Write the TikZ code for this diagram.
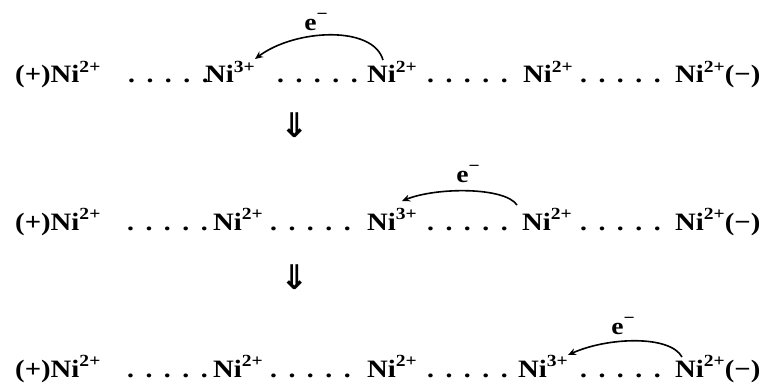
\documentclass[tikz,border=0pt]{standalone}
\usepackage{fontspec}
\setmainfont[FakeStretch=1.15]{Liberation Serif}
\newfontfamily\arrowfont{DejaVu Sans}
\usetikzlibrary{arrows.meta}
\newcommand\iondots{.\hspace{11.5pt}.\hspace{11.5pt}.\hspace{11.5pt}.\hspace{11.5pt}.}
\newcommand\chg[1]{\raisebox{10.5pt}{\fontsize{17}{20}\selectfont\bfseries #1}}
\tikzset{
  ion/.style={anchor=base west, inner sep=0pt, font=\fontsize{25}{28}\selectfont\bfseries},
  dotrow/.style={anchor=base west, inner sep=0pt, font=\fontsize{24}{28}\selectfont\bfseries},
  elabel/.style={inner sep=0pt, font=\fontsize{24}{26}\selectfont\bfseries},
  hop/.style={line width=1.6pt, -{Stealth[length=8pt,width=7pt]}},
  down/.style={inner sep=0pt, font=\arrowfont\fontsize{34}{36}\selectfont\bfseries}
}
\begin{document}
\begin{tikzpicture}[x=1pt,y=-1pt]
\useasboundingbox (0,0) rectangle (779,390);
% row 1
\node[ion] (a1) at (15,83) {(+)Ni\chg{2+}};
\node[dotrow] (p1) at (128,83) {\iondots};
\node[ion] (b1) at (205,83) {Ni\chg{3+}};
\node[dotrow] (q1) at (277,83) {\iondots};
\node[ion] (c1) at (367,83) {Ni\chg{2+}};
\node[dotrow] (r1) at (427,83) {\iondots};
\node[ion] (d1) at (523,83) {Ni\chg{2+}};
\node[dotrow] (s1) at (580,83) {\iondots};
\node[ion] (e1) at (675,83) {Ni\chg{2+}(−)};
\node[elabel] (l1) at (316,22) {e\chg{−}};
\draw[hop] ([shift={(16,-23)}]c1.base west) .. controls +(-10,-35) and +(40,-30) .. ([shift={(50,-24)}]b1.base west);
\node[down] (v1) at (295,125) {⇓};
% row 2
\node[ion] (a2) at (15,230) {(+)Ni\chg{2+}};
\node[dotrow] (p2) at (127,230) {\iondots};
\node[ion] (b2) at (213,230) {Ni\chg{2+}};
\node[dotrow] (q2) at (270,230) {\iondots};
\node[ion] (c2) at (367,230) {Ni\chg{3+}};
\node[dotrow] (r2) at (427,230) {\iondots};
\node[ion] (d2) at (522,230) {Ni\chg{2+}};
\node[dotrow] (s2) at (580,230) {\iondots};
\node[ion] (e2) at (675,230) {Ni\chg{2+}(−)};
\node[elabel] (l2) at (468,174) {e\chg{−}};
\draw[hop] ([shift={(-5,-25)}]d2.base west) .. controls +(-12,-18) and +(35,-14) .. ([shift={(35,-29)}]c2.base west);
\node[down] (v2) at (295,277) {⇓};
% row 3
\node[ion] (a3) at (15,377) {(+)Ni\chg{2+}};
\node[dotrow] (p3) at (127,377) {\iondots};
\node[ion] (b3) at (213,377) {Ni\chg{2+}};
\node[dotrow] (q3) at (270,377) {\iondots};
\node[ion] (c3) at (367,377) {Ni\chg{2+}};
\node[dotrow] (r3) at (427,377) {\iondots};
\node[ion] (d3) at (518,377) {Ni\chg{3+}};
\node[dotrow] (s3) at (580,377) {\iondots};
\node[ion] (e3) at (675,377) {Ni\chg{2+}(−)};
\node[elabel] (l3) at (623,326) {e\chg{−}};
\draw[hop] ([shift={(7,-20)}]e3.base west) .. controls +(-12,-22) and +(40,-18) .. ([shift={(50,-22)}]d3.base west);
\end{tikzpicture}
\end{document}
